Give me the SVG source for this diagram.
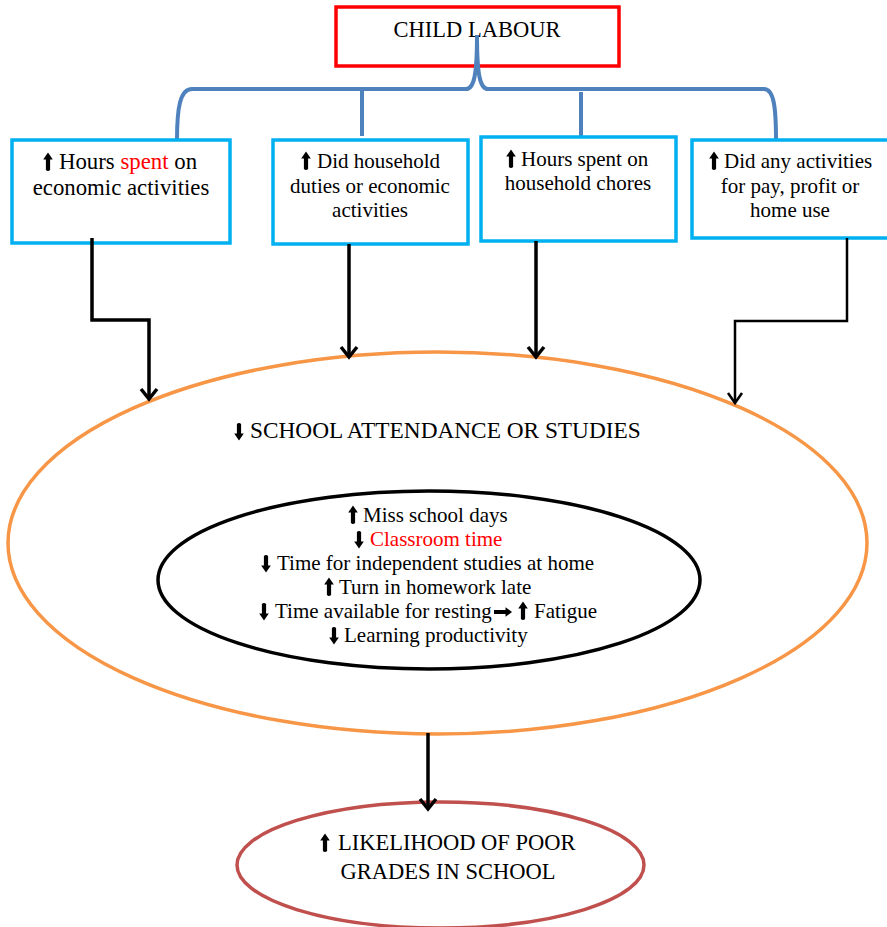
<svg xmlns="http://www.w3.org/2000/svg" width="887" height="927" viewBox="0 0 887 927">
<style>
.t{font-family:"Liberation Serif","Times New Roman",serif;fill:#000}
.h{font-size:22.5px}
.s{font-size:23.3px}
.b{font-size:21px}
.b1{font-size:22.8px}
.i{font-size:21px}
.red{fill:#ff0000}
.box{fill:#fff;stroke:#00b0f0;stroke-width:3.5}
.con{fill:none;stroke:#000;stroke-width:3.5;marker-end:url(#ah)}
.thin{stroke-width:2.5;marker-end:url(#ahs)}
</style>
<defs>
<marker id="ah" markerUnits="userSpaceOnUse" viewBox="-14 -12 18 24" refX="0" refY="0" markerWidth="18" markerHeight="24" orient="auto">
<path d="M-10,-8 L0,0 L-10,8" fill="none" stroke="#000" stroke-width="3.5" stroke-linejoin="miter"/>
</marker>
<marker id="ahs" markerUnits="userSpaceOnUse" viewBox="-14 -12 18 24" refX="0" refY="0" markerWidth="18" markerHeight="24" orient="auto">
<path d="M-10,-7 L0,0 L-10,7" fill="none" stroke="#000" stroke-width="2.5"/>
</marker>
<path id="up" d="M0,-16.5 L4.8,-9.5 L2.1,-9.5 L2.1,1 Q0,3 -2.1,1 L-2.1,-9.5 L-4.8,-9.5 Z" fill="#000"/>
<path id="dn" d="M0,2.5 L4.8,-4.5 L2.1,-4.5 L2.1,-14 Q0,-16 -2.1,-14 L-2.1,-4.5 L-4.8,-4.5 Z" fill="#000"/>
<path id="rt" d="M0,0 L-6.5,-4.8 L-6.5,-2 L-18,-2 L-18,2 L-6.5,2 L-6.5,4.8 Z" fill="#000"/>
</defs>
<rect width="887" height="927" fill="#fff"/>

<g id="child-labour">
<rect x="336" y="7" width="283" height="59" fill="#fff" stroke="#ff0000" stroke-width="3.5"/>
<text class="t h" x="477" y="37" text-anchor="middle">CHILD LABOUR</text>
</g>

<g id="brace" fill="none" stroke="#4f81bd" stroke-width="4">
<path d="M177,140 C177,108 180,89 192,89 L466,89 C474,89 477,75 477,35 C477,75 480,89 488,89 L764,89 C774,89 776,108 776,140"/>
<path d="M362,87 V136"/>
<path d="M581,92 V136"/>
</g>

<g id="box1">
<rect class="box" x="12" y="140" width="218" height="103"/>
<use href="#up" x="48" y="169"/>
<text class="t b1" x="59" y="169">Hours <tspan class="red">spent</tspan> on</text>
<text class="t b1" x="121" y="195" text-anchor="middle">economic activities</text>
</g>

<g id="box2">
<rect class="box" x="273" y="140" width="195" height="104"/>
<use href="#up" x="306" y="168"/>
<text class="t b" x="317" y="168">Did household</text>
<text class="t b" x="370" y="193" text-anchor="middle">duties or economic</text>
<text class="t b" x="370" y="217" text-anchor="middle">activities</text>
</g>

<g id="box3">
<rect class="box" x="481" y="137" width="195" height="104"/>
<use href="#up" x="511" y="166"/>
<text class="t b" x="521" y="166">Hours spent on</text>
<text class="t b" x="578" y="190" text-anchor="middle">household chores</text>
</g>

<g id="box4">
<rect class="box" x="692" y="140" width="200" height="98"/>
<use href="#up" x="714" y="168"/>
<text class="t b" x="724" y="168">Did any activities</text>
<text class="t b" x="790" y="193" text-anchor="middle">for pay, profit or</text>
<text class="t b" x="790" y="217" text-anchor="middle">home use</text>
</g>

<g id="school-attendance">
<ellipse cx="437.5" cy="543" rx="429.5" ry="191" fill="none" stroke="#f79646" stroke-width="3.5"/>
<use href="#dn" x="239" y="438"/>
<text class="t s" x="250" y="438">SCHOOL ATTENDANCE OR STUDIES</text>
</g>

<g id="effects">
<ellipse cx="429" cy="580" rx="271" ry="89" fill="none" stroke="#000" stroke-width="3.5"/>
<use href="#up" x="353" y="522"/>
<text class="t i" x="363" y="522">Miss school days</text>
<use href="#dn" x="359" y="546"/>
<text class="t i red" x="370" y="546">Classroom time</text>
<use href="#dn" x="266" y="570"/>
<text class="t i" x="277" y="570">Time for independent studies at home</text>
<use href="#up" x="329" y="594"/>
<text class="t i" x="339" y="594">Turn in homework late</text>
<use href="#dn" x="264" y="618"/>
<text class="t i" x="275" y="618">Time available for resting</text>
<use href="#rt" x="512" y="612"/>
<use href="#up" x="523" y="618"/>
<text class="t i" x="534" y="618">Fatigue</text>
<use href="#dn" x="334" y="642"/>
<text class="t i" x="344" y="642">Learning productivity</text>
</g>

<g id="poor-grades">
<ellipse cx="440.5" cy="865" rx="203.5" ry="63" fill="none" stroke="#c0504d" stroke-width="3.5"/>
<use href="#up" x="325" y="850"/>
<text class="t h" x="338" y="850">LIKELIHOOD OF POOR</text>
<text class="t h" x="448" y="879" text-anchor="middle">GRADES IN SCHOOL</text>
</g>

<g id="connectors">
<path class="con" d="M92,238 V320 H149 V399"/>
<path class="con" d="M349,244 V357"/>
<path class="con" d="M536,241 V357"/>
<path class="con thin" d="M847,238 V321 H735 V403"/>
<path class="con" d="M428,733 V809"/>
</g>
</svg>
